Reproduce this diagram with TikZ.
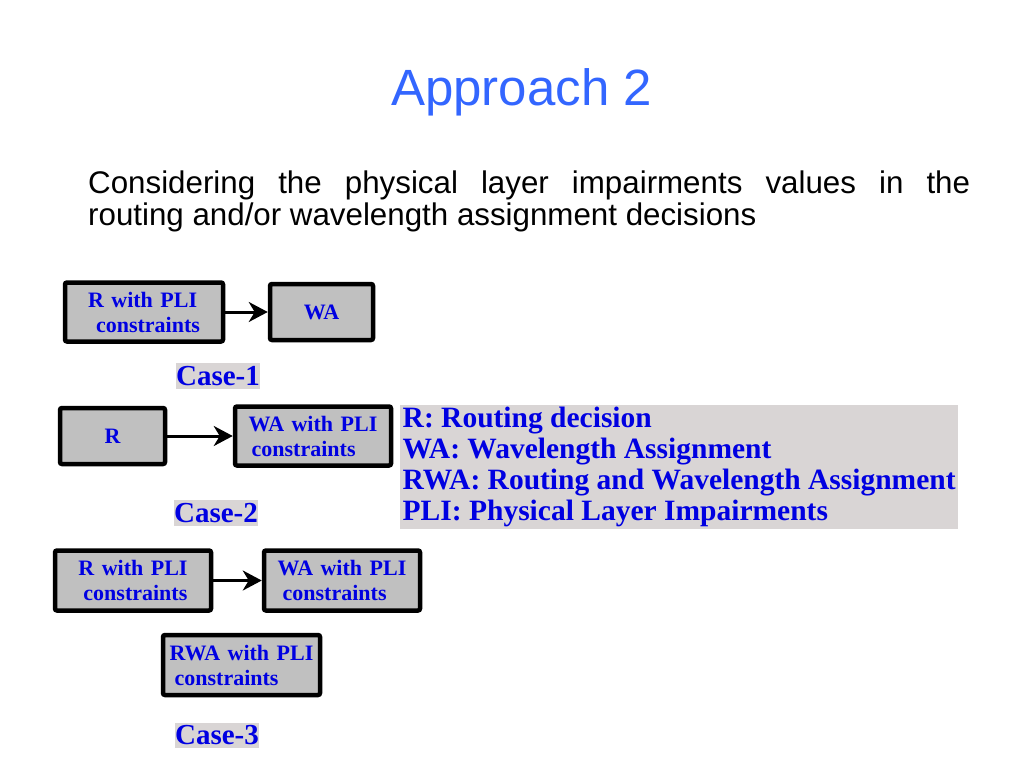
\documentclass[tikz,border=0pt]{standalone}
\usepackage{fontspec}
\setmainfont{Liberation Serif}
\newfontfamily\arialfont{Liberation Sans}
\usepackage{tikz}
\usetikzlibrary{arrows.meta}
\definecolor{titleblue}{RGB}{51,102,255}
\definecolor{boxblue}{RGB}{0,0,225}
\definecolor{boxgray}{RGB}{192,192,192}
\definecolor{notegray}{RGB}{217,213,213}
\newcommand{\widespaces}{\spaceskip=0.34em\relax}
\tikzstyle{casebox} = [draw=black, fill=boxgray, line width=4.5pt,
    rectangle, rounded corners=2pt, inner sep=2pt, align=left,
    text=boxblue, font=\fontsize{22}{25}\selectfont\bfseries]
\tikzstyle{caselabel} =[fill=notegray, text=boxblue, inner xsep=0pt, inner ysep=3pt,
    font=\fontsize{29}{31}\selectfont\bfseries]
\tikzstyle{flow} = [line width=3pt, -{Stealth[length=19pt,width=20pt,inset=6pt]}]

\begin{document}
\begin{tikzpicture}[x=1pt,y=-1pt]
                \useasboundingbox (0,0) rectangle (1024,768);
                % title and text
                \node[anchor=base, text=titleblue, font=\arialfont\fontsize{51}{55}\selectfont] (title) at (521.5,105) {Approach 2};
                \node[anchor=base west, inner sep=0pt, font=\arialfont\fontsize{31.3}{32}\selectfont] (line1) at (88,193)
                    {\makebox[882pt][s]{Considering the physical layer impairments values in the}};
                \node[anchor=base west, inner sep=0pt, font=\arialfont\fontsize{31.3}{32}\selectfont] (line2) at (88,225)
                    {routing and/or wavelength assignment decisions};
                % case 1
                \node[casebox, minimum width=158pt, minimum height=59pt] (r1) at (144,312) {\widespaces R with PLI\\\hspace{8pt}constraints};
                \node[casebox, minimum width=103pt, minimum height=56pt] (wa1) at (321.5,312) {WA};
                \draw[flow] (r1) -- (wa1);
                \node[caselabel] (case1) at (218,376) {Case-1};
                % case 2
                \node[casebox, minimum width=105pt, minimum height=56pt] (r2) at (112.5,436) {R};
                \node[casebox, minimum width=156pt, minimum height=59pt] (wa2) at (313,436) {\widespaces WA with PLI\\\hspace{3pt}constraints};
                \draw[flow] (r2) -- (wa2);
                \node[caselabel] (case2) at (216,513) {Case-2};
                % notes
                \node[fill=notegray, anchor=north west, inner xsep=1pt, inner ysep=2pt, minimum width=558pt, align=left,
                    text=boxblue, font=\fontsize{29.5}{31}\selectfont\bfseries] (notes) at (400,405)
                    {R: Routing decision\\ WA: Wavelength Assignment\\ RWA: Routing and Wavelength Assignment\\ PLI: Physical Layer Impairments};
                % case 3
                \node[casebox, minimum width=156pt, minimum height=60pt] (r3) at (133,580.5) {\widespaces R with PLI\\\hspace{5pt}constraints};
                \node[casebox, minimum width=156pt, minimum height=60pt] (wa3) at (342,580.5) {\widespaces WA with PLI\\\hspace{5pt}constraints};
                \draw[flow] (r3) -- (wa3);
                \node[casebox, minimum width=157pt, minimum height=60pt] (rwa3) at (241.5,665) {\widespaces RWA with PLI\\\hspace{5pt}constraints};
                \node[caselabel] (case3) at (217,735.5) {Case-3};
            \end{tikzpicture}
\end{document}
